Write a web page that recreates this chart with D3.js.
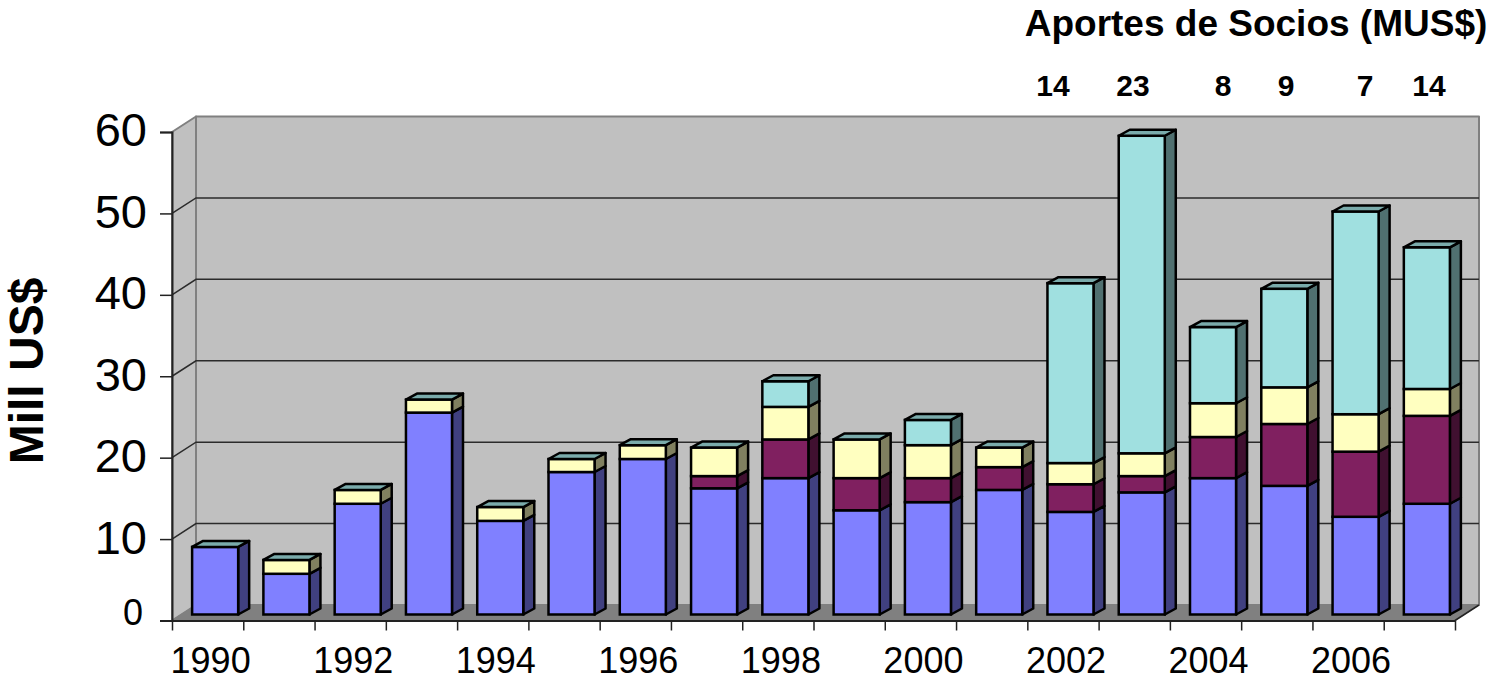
<!DOCTYPE html>
<html>
<head>
<meta charset="utf-8">
<script src="https://cdn.jsdelivr.net/npm/d3@7"></script>
<style>
  html, body { margin: 0; padding: 0; background: #fff; }
  text { font-family: "Liberation Sans", Arial, sans-serif; fill: #000; }
</style>
</head>
<body>
<div id="chart"></div>
<script>
/* chart values */
const years = [1990, 1991, 1992, 1993, 1994, 1995, 1996, 1997, 1998, 1999, 2000, 2001, 2002, 2003, 2004, 2005, 2006, 2007];
const blue = [8.3, 5, 13.6, 24.8, 11.5, 17.5, 19.1, 15.5, 16.75, 12.8, 13.8, 15.3, 12.6, 15, 16.75, 15.8, 12, 13.6];
const purple = [0, 0, 0, 0, 0, 0, 0, 1.5, 4.75, 3.95, 2.95, 2.8, 3.4, 2, 5.05, 7.6, 8, 10.8];
const yellow = [0, 1.7, 1.7, 1.6, 1.7, 1.6, 1.7, 3.5, 4, 4.75, 4.05, 2.4, 2.6, 2.8, 4.15, 4.5, 4.6, 3.3];
const cyan = [0, 0, 0, 0, 0, 0, 0, 0, 3.15, 0, 3.1, 0, 22.1, 39, 9.35, 12.1, 24.9, 17.4];
const yTicks = [0, 10, 20, 30, 40, 50, 60];
const yearLabels = [1990, 1992, 1994, 1996, 1998, 2000, 2002, 2004, 2006];
const aportes = [14, 23, 8, 9, 7, 14];
const aportesX = [1053, 1133, 1223, 1286, 1365, 1429];

const seriesKeys = ["blue", "purple", "yellow", "cyan"];
const faceColors = { blue: "#8080ff", purple: "#802060", yellow: "#ffffc0", cyan: "#a0e0e0" };
const sideColors = { blue: "#404080", purple: "#401030", yellow: "#808060", cyan: "#507070" };

/* svg size */
const width = 1495;
const height = 682;

/* plot box, front plane */
const x0 = 172, x1 = 1455, yBottom = 620.5, yTop = 132;
/* depth of the floor and walls, and of one bar */
const wallDx = 24, wallDy = -15.5;
const barDx = 11, barDy = -6;
const barShift = 6.5;

const xScale = d3.scaleBand()
    .domain(years)
    .range([x0, x1])
    .paddingInner(0.34)
    .paddingOuter(0.17);

const yScale = d3.scaleLinear()
    .domain([0, 60])
    .range([yBottom, yTop]);

const tickEdges = d3.scaleLinear()
    .domain([0, years.length])
    .range([x0, x1]);

const svg = d3.select("#chart").append("svg")
    .attr("width", width)
    .attr("height", height)
    .style("display", "block");

function poly(g, pts, fill, stroke, sw) {
    return g.append("polygon")
        .attr("points", pts.map(p => p.join(",")).join(" "))
        .attr("fill", fill)
        .attr("stroke", stroke)
        .attr("stroke-width", sw)
        .attr("stroke-linejoin", "round");
}

/* walls and floor */
const walls = svg.append("g");
poly(walls, [[x0 + wallDx, yTop + wallDy], [x1 + wallDx, yTop + wallDy], [x1 + wallDx, yBottom + wallDy], [x0 + wallDx, yBottom + wallDy]], "#c0c0c0", "#808080", 2);
poly(walls, [[x0, yTop], [x0 + wallDx, yTop + wallDy], [x0 + wallDx, yBottom + wallDy], [x0, yBottom]], "#c0c0c0", "#808080", 2);
poly(walls, [[x0, yBottom], [x0 + wallDx, yBottom + wallDy], [x1 + wallDx, yBottom + wallDy], [x1, yBottom]], "#808080", "#808080", 1);

/* gridlines, running along the side wall and the back wall */
yTicks.filter(d => d > 0 && d < 60).forEach(d => {
    const y = yScale(d);
    walls.append("polyline")
        .attr("points", `${x0},${y} ${x0 + wallDx},${y + wallDy} ${x1 + wallDx},${y + wallDy}`)
        .attr("fill", "none")
        .attr("stroke", "#2b2b2b")
        .attr("stroke-width", 1.5);
});

/* axes */
const yAxis = d3.axisLeft(yScale)
    .tickValues(yTicks)
    .tickSize(12)
    .tickPadding(13)
    .tickFormat(d3.format("d"));

const yAxisG = svg.append("g")
    .attr("transform", `translate(${x0},0)`)
    .call(yAxis);
yAxisG.selectAll("text")
    .style("font-size", d => d === 0 ? "36px" : "47px")
    .attr("dy", "0.36em")
    .attr("x", d => d === 0 ? -29 : -25)
    .attr("y", d => d === 0 ? -9 : -3);
yAxisG.selectAll("line").attr("stroke", "#222").attr("stroke-width", 1.5);
yAxisG.select(".domain").attr("stroke", "#222").attr("stroke-width", 2);

const xAxis = d3.axisBottom(tickEdges)
    .tickValues(d3.range(0, years.length + 1))
    .tickSize(10)
    .tickSizeOuter(0)
    .tickFormat("");

const xAxisG = svg.append("g")
    .attr("transform", `translate(0,${yBottom})`)
    .call(xAxis);
xAxisG.selectAll("line").attr("stroke", "#222").attr("stroke-width", 1.5);
xAxisG.select(".domain").attr("stroke", "#222").attr("stroke-width", 2);

/* side wall edge lower right */
svg.append("line")
    .attr("x1", x1).attr("y1", yBottom)
    .attr("x2", x1 + wallDx).attr("y2", yBottom + wallDy)
    .attr("stroke", "#222").attr("stroke-width", 1.5);

svg.append("g").selectAll("text")
    .data(yearLabels)
    .enter().append("text")
    .attr("x", d => tickEdges(years.indexOf(d) + 0.5) + 3)
    .attr("y", 673)
    .attr("text-anchor", "middle")
    .style("font-size", "36px")
    .text(d => d);

/* stacked bars */
const rows = years.map((year, i) => ({ year, blue: blue[i], purple: purple[i], yellow: yellow[i], cyan: cyan[i] }));
const stacked = d3.stack().keys(seriesKeys)(rows);
const barBase = yScale(0) - 6;

const barsG = svg.append("g");
years.forEach((year, i) => {
    const left = xScale(year) + barShift + 1.5;
    const right = left + xScale.bandwidth() - 1;
    const col = barsG.append("g");
    let lastTop = null;
    stacked.forEach(s => {
        const v = s[i];
        if (v[1] - v[0] <= 0) return;
        const yLow = barBase + yScale(v[0]) - yScale(0);
        const yHigh = barBase + yScale(v[1]) - yScale(0);
        poly(col, [[right, yLow], [right + barDx, yLow + barDy], [right + barDx, yHigh + barDy], [right, yHigh]], sideColors[s.key], "#000", 2.5);
        col.append("rect")
            .attr("x", left)
            .attr("y", yHigh)
            .attr("width", right - left)
            .attr("height", yLow - yHigh)
            .attr("fill", faceColors[s.key])
            .attr("stroke", "#000")
            .attr("stroke-width", 2.5);
        lastTop = yHigh;
    });
    poly(col, [[left, lastTop], [left + barDx, lastTop + barDy], [right + barDx, lastTop + barDy], [right, lastTop]], "#7aabab", "#000", 2.5);
});

/* labels */
svg.append("text")
    .attr("transform", "translate(43,371) rotate(-90)")
    .attr("text-anchor", "middle")
    .style("font-size", "48px")
    .style("font-weight", "bold")
    .text("Mill US$");

svg.append("text")
    .attr("x", 1256)
    .attr("y", 36)
    .attr("text-anchor", "middle")
    .style("font-size", "37px")
    .style("font-weight", "bold")
    .text("Aportes de Socios (MUS$)");

svg.append("g").selectAll("text")
    .data(aportes)
    .enter().append("text")
    .attr("x", (d, i) => aportesX[i])
    .attr("y", 96)
    .attr("text-anchor", "middle")
    .style("font-size", "30px")
    .style("font-weight", "bold")
    .text(d => d);
</script>
</body>
</html>
